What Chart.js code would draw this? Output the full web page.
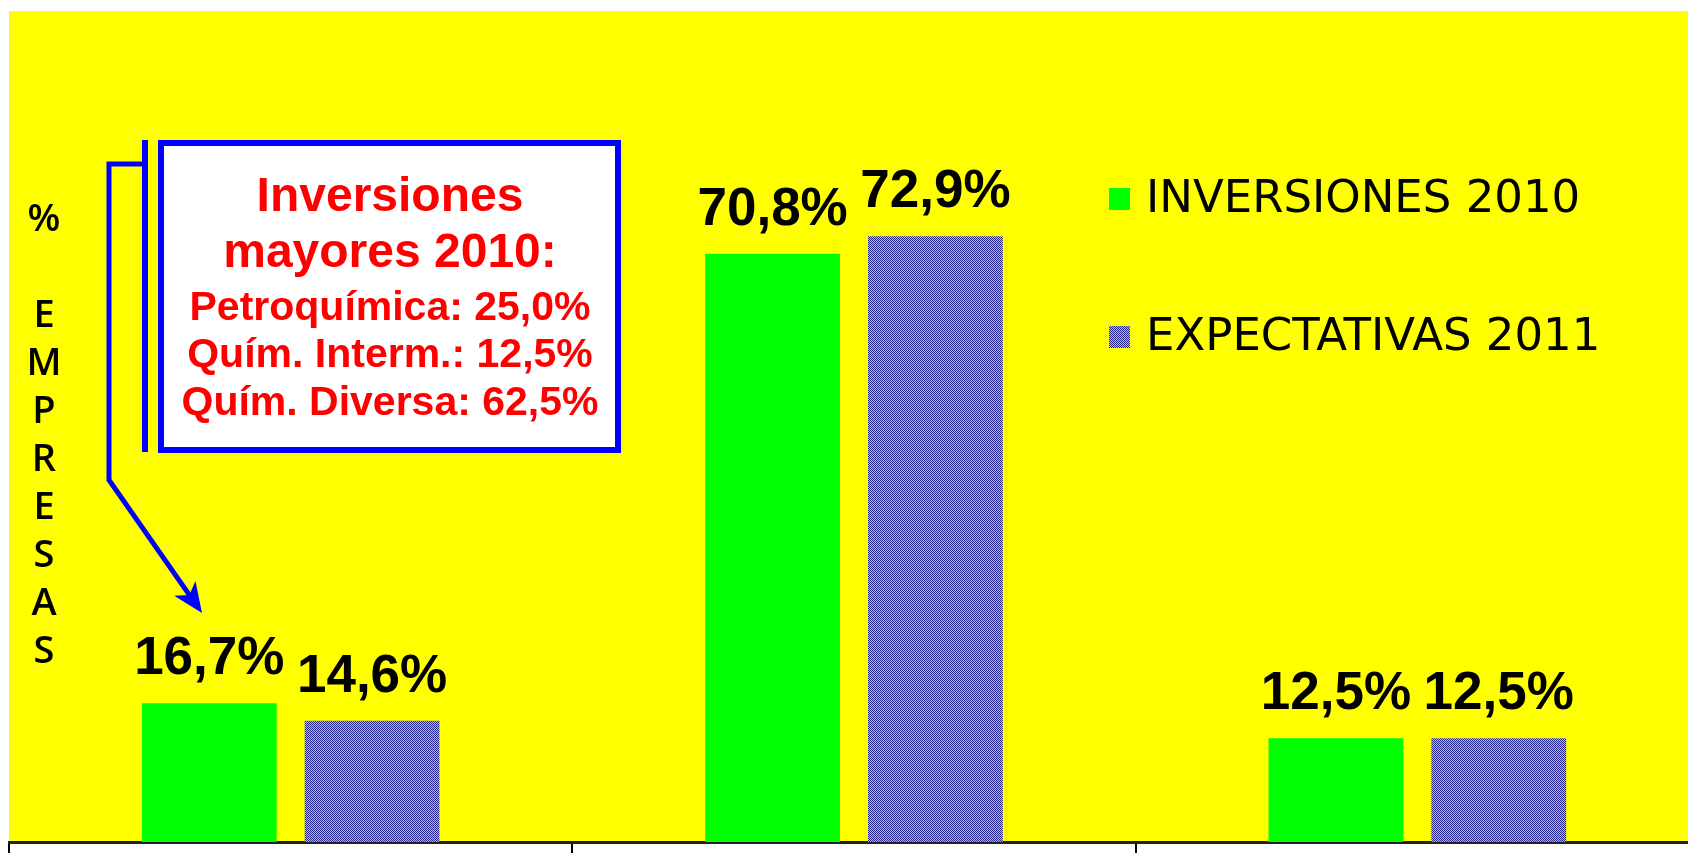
<!DOCTYPE html>
<html lang="es">
<head>
<meta charset="UTF-8">
<title>Inversiones 2010 - Expectativas 2011</title>
<script src="https://cdn.jsdelivr.net/npm/chart.js"></script>
<style>
  html, body { margin: 0; padding: 0; background: #fff; overflow: hidden; }
  #wrap { width: 1700px; height: 853px; }
</style>
</head>
<body>
<div id="wrap"><canvas id="chart" width="1700" height="853"></canvas></div>
<script>
// categories have no visible names in the original
const categories = ['', '', ''];
const seriesNames = ['INVERSIONES 2010', 'EXPECTATIVAS 2011'];
const inversiones2010 = [16.7, 70.8, 12.5];
const expectativas2011 = [14.6, 72.9, 12.5];
const yTitleLetters = ['%', '', 'E', 'M', 'P', 'R', 'E', 'S', 'A', 'S'];
const noteTitle = ['Inversiones', 'mayores 2010:'];
const noteLines = ['Petroquímica: 25,0%', 'Quím. Interm.: 12,5%', 'Quím. Diversa: 62,5%'];

const ctx = document.getElementById('chart').getContext('2d');

// dithered blue fill like the old office pattern
function makePattern() {
  const c = document.createElement('canvas');
  c.width = 2; c.height = 2;
  const g = c.getContext('2d');
  g.fillStyle = '#b8b8e6';
  g.fillRect(0, 0, 2, 2);
  g.fillStyle = '#252590';
  g.fillRect(0, 0, 1, 1);
  g.fillRect(1, 1, 1, 1);
  return ctx.createPattern(c, 'repeat');
}
const bluePattern = makePattern();

function fmt(v) {
  return v.toFixed(1).replace('.', ',') + '%';
}

const decor = {
  id: 'decor',
  beforeDraw(chart) {
    const { ctx, chartArea: a } = chart;
    ctx.save();
    ctx.fillStyle = '#ffff00';
    ctx.fillRect(a.left, a.top, a.right - a.left, a.bottom - a.top);
    ctx.restore();
  },
  afterDatasetsDraw(chart) {
    const { ctx } = chart;
    ctx.save();

    // value labels
    ctx.fillStyle = '#000';
    ctx.font = 'bold 53px "Liberation Sans", Arial, sans-serif';
    ctx.textAlign = 'center';
    ctx.textBaseline = 'alphabetic';
    chart.data.datasets.forEach((ds, i) => {
      chart.getDatasetMeta(i).data.forEach((bar, j) => {
        ctx.fillText(fmt(ds.data[j]), bar.x, bar.y - 29);
      });
    });

    // legend
    ctx.textAlign = 'left';
    ctx.textBaseline = 'middle';
    ctx.font = '45px "DejaVu Sans", sans-serif';
    const legY = [199, 337];
    chart.data.datasets.forEach((ds, i) => {
      ctx.fillStyle = ds.backgroundColor;
      ctx.fillRect(1109, legY[i] - 11, 21, 22);
      ctx.fillStyle = '#000';
      ctx.fillText(ds.label, 1146, legY[i] + 1);
    });

    // stacked y title
    ctx.textAlign = 'center';
    ctx.font = '600 38px "Open Sans", "DejaVu Sans", sans-serif';
    yTitleLetters.forEach((ch, i) => {
      ctx.fillText(ch, 44, 220 + i * 48);
    });

    // callout connector
    ctx.strokeStyle = '#0000ff';
    ctx.fillStyle = '#0000ff';
    ctx.lineWidth = 6;
    ctx.beginPath();
    ctx.moveTo(145, 140);
    ctx.lineTo(145, 452);
    ctx.stroke();
    ctx.lineWidth = 5;
    ctx.lineJoin = 'miter';
    const tip = [202, 613], from = [109, 480];
    const dx = tip[0] - from[0], dy = tip[1] - from[1];
    const len = Math.hypot(dx, dy), ux = dx / len, uy = dy / len;
    ctx.beginPath();
    ctx.moveTo(145, 164);
    ctx.lineTo(109, 164);
    ctx.lineTo(from[0], from[1]);
    ctx.lineTo(tip[0] - ux * 20, tip[1] - uy * 20);
    ctx.stroke();
    ctx.beginPath();
    ctx.moveTo(tip[0], tip[1]);
    ctx.lineTo(tip[0] - ux * 30 - uy * 13, tip[1] - uy * 30 + ux * 13);
    ctx.lineTo(tip[0] - ux * 22, tip[1] - uy * 22);
    ctx.lineTo(tip[0] - ux * 30 + uy * 13, tip[1] - uy * 30 - ux * 13);
    ctx.closePath();
    ctx.fill();

    // note box
    ctx.fillStyle = '#fff';
    ctx.fillRect(161, 143, 457, 307);
    ctx.lineWidth = 6;
    ctx.strokeRect(161, 143, 457, 307);
    ctx.fillStyle = '#ff0000';
    ctx.textAlign = 'center';
    ctx.textBaseline = 'middle';
    ctx.font = 'bold 48px "Liberation Sans", Arial, sans-serif';
    ctx.fillText(noteTitle[0], 390, 198);
    ctx.fillText(noteTitle[1], 390, 254);
    ctx.font = 'bold 41px "Liberation Sans", Arial, sans-serif';
    ctx.fillText(noteLines[0], 390, 309);
    ctx.fillText(noteLines[1], 390, 356);
    ctx.fillText(noteLines[2], 390, 404);

    ctx.restore();
  }
};

new Chart(ctx, {
  type: 'bar',
  data: {
    labels: categories,
    datasets: [
      {
        label: seriesNames[0],
        data: inversiones2010,
        backgroundColor: '#00ff00',
        categoryPercentage: 0.578,
        barPercentage: 0.828
      },
      {
        label: seriesNames[1],
        data: expectativas2011,
        backgroundColor: bluePattern,
        categoryPercentage: 0.578,
        barPercentage: 0.828
      }
    ]
  },
  options: {
    responsive: false,
    animation: false,
    layout: { padding: { left: 9, top: 11, right: 1, bottom: 0 } },
    plugins: {
      legend: { display: false },
      tooltip: { enabled: false }
    },
    scales: {
      x: {
        ticks: { display: false },
        grid: { drawOnChartArea: false, drawTicks: true, tickLength: 11, color: '#000', lineWidth: 2 },
        border: { color: '#222', width: 3 }
      },
      y: { display: false, min: 0, max: 100 }
    }
  },
  plugins: [decor]
});
</script>
</body>
</html>
